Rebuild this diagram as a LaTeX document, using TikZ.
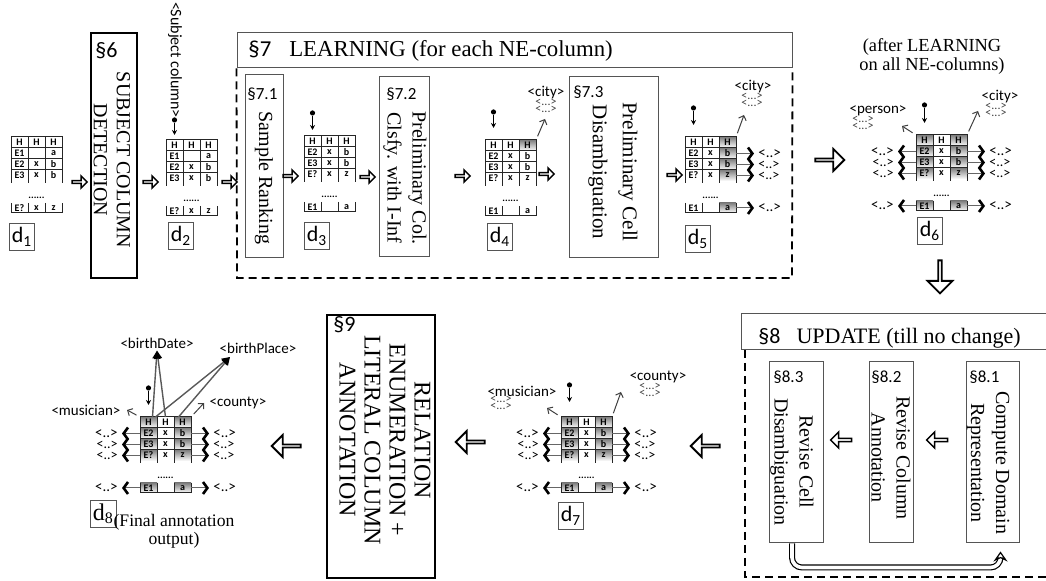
\documentclass[tikz,border=0pt]{standalone}
\usepackage{fontspec}
\setmainfont{Liberation Serif}
\newfontfamily\calfont{Carlito}
\usetikzlibrary{arrows.meta,positioning,fit,shapes.arrows}
\definecolor{shade}{RGB}{158,158,158}
\definecolor{frame}{RGB}{85,85,85}

% one data table: name, x, y, rows, last row, fill col 1, fill of top right H, fill col 3
\newcommand\dtab[8]{%
  \begin{scope}[shift={(#2,#3)}]
    \fill[#6] (0,0) rectangle (17,11);
    \fill[#7] (34,0) rectangle (51,11);
    \foreach \xa/\xb/\xc [count=\r] in {#4} {
      \fill[#6] (0,\r*11) rectangle ++(17,11);
      \fill[#8] (34,\r*11) rectangle ++(17,11);
      \node[cell] at (8.5,\r*11+5.5) {\xa};
      \node[cell] at (25.5,\r*11+5.5) {\xb};
      \node[cell] at (42.5,\r*11+5.5) {\xc};
      \coordinate (#1-w\r) at (0,\r*11+5.5);
      \coordinate (#1-e\r) at (51,\r*11+5.5);
    }
    \foreach \x in {8.5,25.5,42.5} \node[cell] at (\x,5.5) {H};
    \draw[tabline] (0,46) -- (0,0) -- (51,0) -- (51,46);
    \foreach \y in {11,22,33} \draw[tabline] (0,\y) -- (51,\y);
    \foreach \x in {17,34} \draw[tabline] (\x,0) -- (\x,46);
    \foreach \xa/\xb/\xc in {#5} {
      \fill[#6] (0,66) rectangle (17,76);
      \fill[#8] (34,66) rectangle (51,76);
      \node[cell] at (8.5,71) {\xa};
      \node[cell] at (25.5,71) {\xb};
      \node[cell] at (42.5,71) {\xc};
    }
    \draw[tabline] (0,66) -- (0,76) -- (51,76) -- (51,66) (17,66) -- (17,76) (34,66) -- (34,76);
    \node[cell] at (25.5,61) {......};
    \coordinate (#1-nw) at (0,0);
    \coordinate (#1-ne) at (51,0);
    \coordinate (#1-h1) at (8.5,0);
    \coordinate (#1-h2) at (25.5,0);
    \coordinate (#1-h3) at (42.5,0);
    \coordinate (#1-wm) at (0,33);
    \coordinate (#1-em) at (51,33);
    \coordinate (#1-wb) at (0,71);
    \coordinate (#1-eb) at (51,71);
  \end{scope}}

\begin{document}
\begin{tikzpicture}[x=0.5pt,y=-0.5pt,
    cell/.style={font=\calfont\bfseries\fontsize{5}{5}\selectfont,inner sep=0},
    tabline/.style={draw=black!85,line width=0.5pt},
    procbox/.style={draw=frame,line width=0.5pt,inner sep=0},
    boxtext/.style={rotate=-90,align=center,font=\fontsize{10}{12.5}\selectfont,inner sep=0},
    secnum/.style={anchor=base west,font=\calfont\fontsize{8.5}{8.5}\selectfont,inner sep=0},
    dlab/.style={draw=frame,anchor=north west,font=\calfont\fontsize{11}{11}\selectfont,
      inner sep=1.2pt,minimum height=13.5pt},
    sbarr/.style={single arrow,draw=black,line width=0.75pt,fill=white,inner sep=0,
      minimum height=7.5pt,minimum width=6pt,single arrow head extend=1.4pt},
    bbarr/.style={single arrow,draw=black,line width=0.9pt,fill=white,inner sep=0,
      minimum height=14.5pt,minimum width=11pt,single arrow head extend=2.8pt},
    dashbox/.style={dash pattern=on 4pt off 2.5pt,line width=0.9pt},
    lab/.style={font=\calfont\fontsize{7.5}{7.5}\selectfont,inner sep=1pt},
    rowstack/.style={align=center,font=\calfont\fontsize{7}{5.5}\selectfont,inner sep=1pt},
    cloud/.style={align=center,font=\calfont\fontsize{6}{3.5}\selectfont,inner sep=0.5pt,text=black!75},
    rowarr/.style={draw=black!60,line width=0.5pt,shorten >=1pt,
      -{Straight Barb[length=2.2pt,width=6pt,line width=1.3pt,color=black]}},
    labarr/.style={draw=black!75,line width=0.5pt,shorten <=2pt,-{Straight Barb[length=2pt,width=4pt]}},
    relarr/.style={draw=black!65,line width=0.7pt,-{Triangle[length=4pt,width=4pt,color=black]}},
    pindot/.style={circle,fill=black,inner sep=0,minimum size=2.6pt},
    pinarr/.style={line width=0.5pt,shorten >=6pt,-{Stealth[length=2.5pt,width=2.5pt]}},
    looparr/.style={double=white,double distance=1.8pt,line width=0.6pt,rounded corners=5pt,
      -{Stealth[length=5pt,width=7pt,open]}}]
  \useasboundingbox (0,0) rectangle (1046,581);

  % top row: subject column and learning
  \dtab{t1}{11}{137}{E1/{}/a,E2/x/b,E3/x/b}{E?/x/z}{white}{white}{white}
  \node[dlab] (d1) at (9,223) {d\textsubscript{1}};
  \node[sbarr] (a1) at (79,182) {};
  \node[procbox,draw=black,line width=0.7pt,fit={(91,33)(137,278)}] (s6) {};
  \node[secnum,font=\calfont\fontsize{11}{11}\selectfont] (s6n) at (95,58) {§6};
  \node[boxtext,font=\fontsize{10}{11.5}\selectfont] (s6t) at (112,160) {SUBJECT COLUMN\\DETECTION};
  \node[sbarr] (a2) at (150,182) {};

  \dtab{t2}{166}{140}{E1/{}/a,E2/x/b,E3/x/b}{E?/x/z}{white}{white}{white}
  \node[lab,rotate=-90,font=\calfont\fontsize{8}{8}\selectfont] (subj) at (175,60) {<Subject column>};
  \node[pindot] (p2) at (174.5,120) {};
  \draw[pinarr,shorten >=2.5pt] (p2) -- (t2-h1);
  \node[dlab] (d2) at (168,222) {d\textsubscript{2}};
  \node[sbarr] (a3) at (229,182) {};

  \node[procbox,fit={(237,33)(792,68)}] (lt) {};
  \node[anchor=base west,inner sep=0,font=\fontsize{11.4}{11.4}\selectfont] (ltt) at (248,57)
    {{\calfont §7}\hspace{9pt}LEARNING (for each NE-column)};
  \coordinate (ldsw) at (237,278);
  \coordinate (ldse) at (792,278);
  \draw[dashbox] (lt.south west) -- (ldsw) -- (ldse) -- (lt.south east);

  \node[procbox,fit={(245,75)(283,258)}] (s71) {};
  \node[secnum] (s71n) at (247,100) {§7.1};
  \node[boxtext] (s71t) at (264,178) {Sample Ranking};
  \node[sbarr] (a4) at (290,176) {};

  \dtab{t3}{304}{136}{E2/x/b,E3/x/b,E?/x/z}{E1/{}/a}{white}{white}{white}
  \node[pindot] (p3) at (312.5,113) {};
  \draw[pinarr,shorten >=3pt] (p3) -- (t3-h1);
  \node[dlab] (d3) at (304,222) {d\textsubscript{3}};
  \node[sbarr] (a5) at (367,177) {};

  \node[procbox,fit={(379,77)(429,257)}] (s72) {};
  \node[secnum] (s72n) at (386,100) {§7.2};
  \node[boxtext] (s72t) at (405,178) {Preliminary Col.\\Clsfy. with I-Inf};
  \node[sbarr] (a6) at (462,176) {};

  \dtab{t4}{485}{140}{E2/x/b,E3/x/b,E?/x/z}{E1/{}/a}{white}{shade}{white}
  \node[pindot] (p4) at (493.5,112) {};
  \draw[pinarr] (p4) -- (t4-h1);
  \node[lab] (city4) at (546,93) {<city>};
  \node[cloud] (k4) at (546,106) {<...>\\<...>};
  \coordinate (e4) at (545,119);
  \draw[labarr] (t4-ne) -- (e4);
  \node[dlab] (d4) at (487,223) {d\textsubscript{4}};
  \node[sbarr] (a7) at (546,174) {};

  \node[procbox,fit={(569,77)(658,258)}] (s73) {};
  \node[secnum] (s73n) at (573,98) {§7.3};
  \node[boxtext,font=\fontsize{10.5}{15}\selectfont] (s73t) at (613,172) {Preliminary Cell\\Disambiguation};
  \node[sbarr] (a8) at (674,175) {};

  \dtab{t5}{685}{137}{E2/x/b,E3/x/b,E?/x/z}{E1/{}/a}{white}{shade}{shade}
  \node[pindot] (p5) at (693.5,108) {};
  \draw[pinarr] (p5) -- (t5-h1);
  \node[lab] (city5) at (753,87) {<city>};
  \node[cloud] (k5) at (752,100) {<...>\\<...>};
  \coordinate (e5) at (744,115);
  \draw[labarr] (t5-ne) -- (e5);
  \node[lab,right=10pt of t5-e1] (r5a) {<..>};
  \node[rowstack,right=10pt of t5-em] (r5b) {<..>\\<..>};
  \node[lab,right=10pt of t5-eb] (r5c) {<..>};
  \draw[rowarr] (t5-e1) -- (r5a);
  \draw[rowarr] (t5-e2) -- (t5-e2 -| r5b.west);
  \draw[rowarr] (t5-e3) -- (t5-e3 -| r5b.west);
  \draw[rowarr] (t5-eb) -- (r5c);
  \node[dlab] (d5) at (685,225) {d\textsubscript{5}};

  % after learning
  \node[bbarr] (a9) at (829,160) {};
  \node[align=center,font=\fontsize{9.2}{9.5}\selectfont] (after) at (932,56)
    {(after LEARNING\\on all NE-columns)};
  \dtab{t6}{916}{135}{E2/x/b,E3/x/b,E?/x/z}{E1/{}/a}{shade}{shade}{shade}
  \node[pindot] (p6) at (924.5,105) {};
  \draw[pinarr] (p6) -- (t6-h1);
  \node[lab] (pers6) at (878,111) {<person>};
  \node[cloud] (k6p) at (863,123) {<...>\\<...>};
  \coordinate (e6p) at (902,126);
  \draw[labarr] (t6-nw) -- (e6p);
  \node[lab] (city6) at (1000,97) {<city>};
  \node[cloud] (k6c) at (996,110) {<...>\\<...>};
  \coordinate (e6c) at (978,111);
  \draw[labarr] (t6-ne) -- (e6c);
  \node[dlab] (d6) at (917,217) {d\textsubscript{6}};
  \node[bbarr,shape border rotate=270,minimum height=16.5pt,minimum width=12.5pt] (a10) at (940,276) {};

  % update
  \node[procbox,fit={(741,314)(1050,350)}] (ut) {};
  \node[anchor=base west,inner sep=0,font=\fontsize{11}{11}\selectfont] (utt) at (758,344)
    {{\calfont §8}\hspace{8pt}UPDATE (till no change)};
  \coordinate (udnw) at (745,350);
  \coordinate (udsw) at (745,577);
  \coordinate (udse) at (1046,577);
  \draw[dashbox] (udnw) -- (udsw) -- (udse);

  \node[procbox,fit={(769,362)(823,543)}] (s83) {};
  \node[secnum] (s83n) at (773,383) {§8.3};
  \node[boxtext] (s83t) at (792,462) {Revise Cell\\Disambiguation};
  \node[procbox,fit={(869,362)(913,543)}] (s82) {};
  \node[secnum] (s82n) at (871,383) {§8.2};
  \node[boxtext] (s82t) at (891,458) {Revise Column\\Annotation};
  \node[procbox,fit={(966,362)(1019,543)}] (s81) {};
  \node[secnum] (s81n) at (969,383) {§8.1};
  \node[boxtext] (s81t) at (988,463) {Compute Domain\\Representation};
  \node[sbarr,shape border rotate=180,minimum height=10.5pt,minimum width=8pt] (a14) at (842,440) {};
  \node[sbarr,shape border rotate=180,minimum height=10.5pt,minimum width=8pt] (a15) at (938,440) {};
  \draw[looparr] ([xshift=-2pt]s83.south) -- ++(0,24) -| ([xshift=4pt,yshift=-4pt]s81.south);

  % bottom row: d7, relations, d8
  \node[bbarr,shape border rotate=180] (a11) at (706,446) {};
  \dtab{t7}{561}{417}{E2/x/b,E3/x/b,E?/x/z}{E1/{}/a}{shade}{shade}{shade}
  \node[pindot] (p7) at (569.5,385) {};
  \draw[pinarr,shorten >=7.5pt] (p7) -- (t7-h1);
  \node[lab] (mus7) at (522,391) {<musician>};
  \node[cloud] (k7m) at (501,403) {<...>\\<...>};
  \coordinate (e7m) at (547,408);
  \draw[labarr] (t7-nw) -- (e7m);
  \node[lab] (cty7) at (658,377) {<county>};
  \node[cloud] (k7c) at (650,390) {<...>\\<...>};
  \coordinate (e7c) at (621,392);
  \draw[labarr] (t7-ne) -- (e7c);
  \node[dlab] (d7) at (558,502) {d\textsubscript{7}};

  \node[bbarr,shape border rotate=180] (a12) at (471,442) {};
  \node[procbox,draw=black,line width=1pt,fit={(327,315)(435,578)}] (s9) {};
  \node[secnum,font=\calfont\fontsize{11}{11}\selectfont] (s9n) at (333,332) {§9};
  \node[boxtext,font=\fontsize{12}{12.5}\selectfont] (s9t) at (385,440)
    {RELATION\\ENUMERATION +\\LITERAL COLUMN\\ANNOTATION};
  \node[bbarr,shape border rotate=180] (a13) at (287,446) {};

  \dtab{t8}{140}{417}{E2/x/b,E3/x/b,E?/x/z}{E1/{}/a}{shade}{shade}{shade}
  \node[pindot] (p8) at (148.5,388) {};
  \draw[pinarr] (p8) -- (t8-h1);
  \node[lab] (bd) at (157,343) {<birthDate>};
  \node[lab] (bp) at (258,348) {<birthPlace>};
  \coordinate (e8bp) at (230,357);
  \draw[relarr] ([xshift=2pt]t8-h1) -- (bd.south);
  \draw[relarr] (t8-h2) -- (bd.south);
  \draw[relarr] ([xshift=3.5pt]t8-h1) -- (e8bp);
  \draw[relarr] ([xshift=-2pt]t8-h3) -- (e8bp);
  \node[lab] (mus8) at (86,410) {<musician>};
  \coordinate (e8m) at (127,410);
  \draw[labarr] (t8-nw) -- (e8m);
  \node[lab] (cty8) at (238,403) {<county>};
  \coordinate (e8c) at (204,403);
  \draw[labarr] (t8-ne) -- (e8c);
  \node[dlab,font=\fontsize{12}{12}\selectfont] (d8) at (90,500) {d\textsubscript{8}};
  \node[align=center,font=\fontsize{8.8}{9}\selectfont] (fin) at (174,531) {(Final annotation\\output)};

  % row annotations of d6, d7, d8
  \foreach \t in {t6,t7,t8} {
    \node[lab,left=10pt of \t-w1] (\t la) {<..>};
    \node[rowstack,left=10pt of \t-wm] (\t lb) {<..>\\<..>};
    \node[lab,left=10pt of \t-wb] (\t lc) {<..>};
    \node[lab,right=10pt of \t-e1] (\t ra) {<..>};
    \node[rowstack,right=10pt of \t-em] (\t rb) {<..>\\<..>};
    \node[lab,right=10pt of \t-eb] (\t rc) {<..>};
    \draw[rowarr] (\t-w1) -- (\t la);
    \draw[rowarr] (\t-w2) -- (\t-w2 -| \t lb.east);
    \draw[rowarr] (\t-w3) -- (\t-w3 -| \t lb.east);
    \draw[rowarr] (\t-wb) -- (\t lc);
    \draw[rowarr] (\t-e1) -- (\t ra);
    \draw[rowarr] (\t-e2) -- (\t-e2 -| \t rb.west);
    \draw[rowarr] (\t-e3) -- (\t-e3 -| \t rb.west);
    \draw[rowarr] (\t-eb) -- (\t rc);
  }
\end{tikzpicture}
\end{document}
